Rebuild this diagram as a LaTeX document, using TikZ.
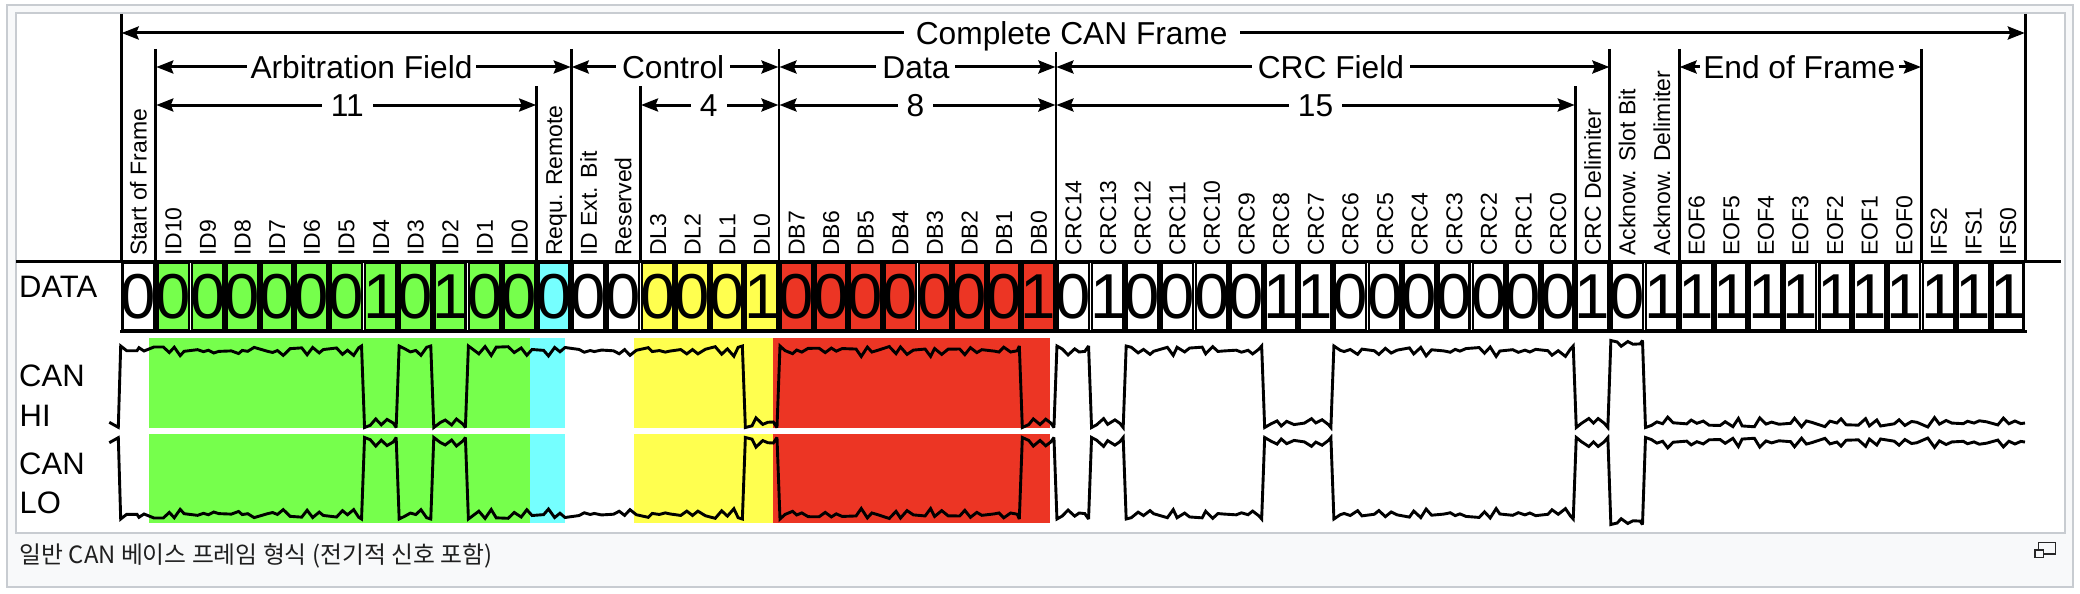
\documentclass[tikz,border=0pt]{standalone}
\usepackage{fontspec}
\setmainfont{Liberation Sans}
\newfontfamily\cjkfont{Noto Sans CJK KR}
\usetikzlibrary{arrows.meta}
\definecolor{gr}{HTML}{76FF4C}
\definecolor{cy}{HTML}{75FFFF}
\definecolor{ye}{HTML}{FFFF4F}
\definecolor{re}{HTML}{EC3524}
\definecolor{frameborder}{HTML}{C8CCD1}
\definecolor{framebg}{HTML}{F8F9FA}
\newcommand\xo{121.2}
\newcommand\pit{34.62}
\tikzset{
  bigtxt/.style={font=\fontsize{31.7}{34}\selectfont,anchor=base,fill=white,inner ysep=0pt,text height=24pt,text depth=7pt},
  bitlabel/.style={font=\fontsize{23}{24}\selectfont,rotate=90,anchor=west,inner sep=0pt,text height=16.4pt,text depth=0pt},
  sidetxt/.style={font=\fontsize{31}{34}\selectfont,anchor=base west,inner sep=0pt},
  bitcell/.style={draw=black,line width=2.8pt,inner sep=0pt,minimum width=31.6pt,minimum height=68.2pt,font=\fontsize{63.5}{64}\selectfont},
  dimarrow/.style={line width=3pt,{Stealth[length=17pt,width=13pt,inset=2.5pt]}-{Stealth[length=17pt,width=13pt,inset=2.5pt]},shorten <=0.5pt,shorten >=0.5pt},
  divider/.style={line width=2.8pt,black},
  rail/.style={line width=3pt,black},
  sig/.style={line width=2.9pt,black,miter limit=3}
}
\begin{document}
\begin{tikzpicture}[x=1pt,y=-1pt]
\useasboundingbox (0,0) rectangle (2080,594);
\fill[white] (0,0) rectangle (2080,594);
% frames
\draw[frameborder,fill=framebg,line width=2pt] (7,5.5) rectangle (2072.5,586.5);
\draw[frameborder,fill=white,line width=2pt] (15.5,13) rectangle (2065,532.5);
% signal colour bands
\foreach \yt/\yb in {338/427.7,433.7/523}{
  \fill[gr] (149,\yt) rectangle (530,\yb);
  \fill[cy] (530,\yt) rectangle (565,\yb);
  \fill[ye] (634,\yt) rectangle (773,\yb);
  \fill[re] (773,\yt) rectangle (1050,\yb);
}
% bit cells
\foreach \b [count=\n from 0] in {0,0,0,0,0,0,0,1,0,1,0,0,0,0,0,0,0,0,1,0,0,0,0,0,0,0,1,0,1,0,0,0,0,1,1,0,0,0,0,0,0,0,1,0,1,1,1,1,1,1,1,1,1,1,1}{
  \def\cc{white}
  \ifnum\n>0 \ifnum\n<12 \def\cc{gr}\fi\fi
  \ifnum\n=12 \def\cc{cy}\fi
  \ifnum\n>14 \ifnum\n<19 \def\cc{ye}\fi\fi
  \ifnum\n>18 \ifnum\n<27 \def\cc{re}\fi\fi
  \node[bitcell,fill=\cc] (c\n) at ({\xo+\pit*(\n+0.5)},296.6) {\makebox[0pt]{\b}};
}
% bit names
\foreach \t [count=\n from 0] in {Start of Frame,ID10,ID9,ID8,ID7,ID6,ID5,ID4,ID3,ID2,ID1,ID0,Requ. Remote,ID Ext. Bit,Reserved,DL3,DL2,DL1,DL0,DB7,DB6,DB5,DB4,DB3,DB2,DB1,DB0,CRC14,CRC13,CRC12,CRC11,CRC10,CRC9,CRC8,CRC7,CRC6,CRC5,CRC4,CRC3,CRC2,CRC1,CRC0,CRC Delimiter,Acknow. Slot Bit,Acknow. Delimiter,EOF6,EOF5,EOF4,EOF3,EOF2,EOF1,EOF0,IFS2,IFS1,IFS0}{
  \node[bitlabel] (n\n) at ({\xo+\pit*(\n+0.5)},256) {\t};
}
% rails
\coordinate (railL) at (16,261); \coordinate (railR) at (2061,261);
\coordinate (botL) at (120,331); \coordinate (botR) at (2026.5,331);
\draw[rail] (railL) -- (railR);
\draw[rail] (botL) -- (botR);
% dividers
\foreach \n/\yt in {0/14,55/14,1/49,13/49,19/49,27/49,43/49,45/49,52/49,12/86,15/86,42/86}{
  \coordinate (d\n) at ({\xo+\pit*\n},\yt);
  \coordinate (e\n) at ({\xo+\pit*\n},261);
  \draw[divider] (d\n) -- (e\n);
}
% dimension arrows with labels
\foreach \a/\b/\yy/\t/\sep/\dx in {0/55/33/Complete CAN Frame/12pt/-1.5,1/13/67/Arbitration Field/3.5pt/-2,13/19/67/Control/6pt/-2,19/27/67/Data/6pt/-1.5,27/43/67/CRC Field/6pt/-2,45/52/67/End of Frame/3.5pt/-1,1/12/105/11/9pt/1,15/19/105/4/9pt/-1,19/27/105/8/9pt/-2,27/42/105/15/9pt/0}{
  \coordinate (l\a-\b) at ({\xo+\pit*\a},\yy);
  \coordinate (r\a-\b) at ({\xo+\pit*\b},\yy);
  \draw[dimarrow] (l\a-\b) -- (r\a-\b);
  \node[bigtxt,inner xsep=\sep] (t\a-\b) at ({\xo+\pit*(\a+\b)/2+\dx},\yy+11.7) {\t};
}
% side labels
\node[sidetxt] (tdata) at (19,297) {DATA};
\node[sidetxt] (thi1) at (19,386.7) {CAN};
\node[sidetxt] (thi2) at (19.5,426) {HI};
\node[sidetxt] (tlo1) at (19,474) {CAN};
\node[sidetxt] (tlo2) at (19.5,513) {LO};
% signal
\pgfmathsetseed{4711}
\gdef\wave{(109.3,422.3) -- (118.3,427.3) -- (120.7,346) -- (126.7,350.7) -- (137,350.7) -- (139,347.7) -- (144,351) -- (149,349) -- (154,347)}
\gdef\prevbase{346}
\foreach \b [count=\n from 0] in {0,0,0,0,0,0,0,1,0,1,0,0,0,0,0,0,0,0,1,0,0,0,0,0,0,0,1,0,1,0,0,0,0,1,1,0,0,0,0,0,0,0,1,2,1,1,1,1,1,1,1,1,1,1,1}{
  \ifnum\n>0
  \pgfmathsetmacro\xa{\xo+\pit*\n}
  \ifcase\b
    \def\base{346}\def\amp{10.5}%
  \or
    \def\base{427.5}\def\amp{-10.5}%
  \or
    \def\base{340.5}\def\amp{6.5}%
  \fi
  \ifdim\base pt=\prevbase pt\relax\else
    \pgfmathsetmacro\xl{\xa-2}\pgfmathsetmacro\xr{\xa+1}
    \xdef\wave{\wave -- (\xl,\prevbase) -- (\xr,\base)}
  \fi
  \xdef\prevbase{\base}
  \foreach \j/\lo/\wd in {1/0.05/0.45,2/0.5/0.5,3/0.05/0.4,4/0.45/0.55,5/0.1/0.45}{
    \pgfmathsetmacro\xp{\xa+1+5.7*\j+2.4*(rnd-0.5)}
    \pgfmathsetmacro\yp{\base+\amp*(\lo+\wd*rnd)}
    \xdef\wave{\wave -- (\xp,\yp)}
  }
  \fi
}
\coordinate (sigEnd) at (2025,423);
\draw[sig] \wave -- (sigEnd);
\begin{scope}[y=1pt,yshift=-865pt]
  \coordinate (sigEndLo) at (2025,423);
  \draw[sig] \wave -- (sigEndLo);
\end{scope}
% caption
\node[font=\cjkfont\fontsize{23.8}{26}\selectfont,anchor=base west,inner sep=0pt,text=black!88!white] (cap) at (19.5,563.5) {일반 CAN 베이스 프레임 형식 (전기적 신호 포함)};
% enlarge icon
\draw[black!85,line width=1.6pt,fill=framebg] (2038.5,542.5) rectangle (2055.5,554);
\draw[black!85,line width=1.6pt,fill=framebg] (2034.8,550) rectangle (2043.5,557.5);
\end{tikzpicture}
\end{document}
